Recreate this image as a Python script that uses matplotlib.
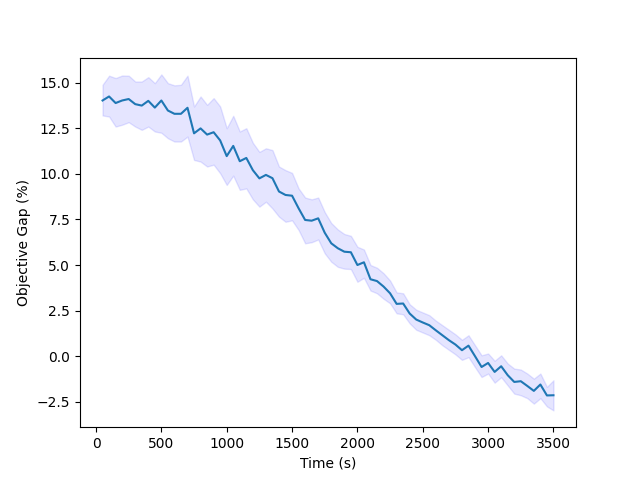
import numpy as np
import matplotlib
matplotlib.use("Agg")
import matplotlib.pyplot as plt

# time axis (s)
time_s = list(range(50, 3501, 50))

# mean objective gap (%) per time step
gap_mean = [14.02, 14.24, 13.88, 14.02, 14.10, 13.82, 13.74, 14.00, 13.63, 14.02,
            13.47, 13.29, 13.29, 13.62, 12.22, 12.49, 12.15, 12.28, 11.83, 10.97,
            11.53, 10.69, 10.87, 10.20, 9.75, 9.94, 9.76, 9.03, 8.84, 8.80,
            8.11, 7.47, 7.43, 7.56, 6.77, 6.19, 5.92, 5.73, 5.70, 5.00,
            5.15, 4.22, 4.12, 3.82, 3.45, 2.87, 2.89, 2.34, 2.01, 1.85,
            1.70, 1.42, 1.15, 0.88, 0.64, 0.33, 0.58, 0.00, -0.59, -0.37,
            -0.86, -0.55, -1.04, -1.41, -1.37, -1.63, -1.90, -1.55, -2.15, -2.14]

# upper / lower edge of the shaded band
gap_upper = [14.88, 15.38, 15.25, 15.39, 15.38, 15.06, 15.06, 15.30, 14.97, 15.45,
             14.97, 14.85, 14.88, 15.38, 13.69, 14.24, 13.78, 14.15, 13.69, 12.50,
             13.18, 12.32, 12.50, 11.70, 11.20, 11.40, 11.30, 10.40, 10.20, 10.05,
             9.20, 8.70, 8.60, 8.70, 7.90, 7.30, 6.95, 6.70, 6.60, 6.00,
             5.85, 5.00, 4.85, 4.55, 4.15, 3.50, 3.45, 2.85, 2.55, 2.40,
             2.25, 1.95, 1.70, 1.45, 1.20, 0.90, 1.15, 0.60, 0.05, 0.15,
             -0.25, 0.05, -0.40, -0.68, -0.73, -0.95, -1.23, -0.95, -1.68, -1.32]

gap_lower = [13.20, 13.14, 12.59, 12.69, 12.83, 12.59, 12.41, 12.59, 12.32, 12.25,
             11.95, 11.77, 11.77, 12.04, 10.76, 10.67, 10.40, 10.50, 10.03, 9.39,
             9.90, 9.12, 9.20, 8.60, 8.20, 8.47, 8.10, 7.65, 7.37, 7.45,
             6.92, 6.19, 6.25, 6.40, 5.64, 5.18, 4.90, 4.80, 4.78, 4.08,
             4.30, 3.60, 3.45, 3.15, 2.90, 2.35, 2.30, 1.80, 1.45, 1.30,
             1.15, 0.90, 0.60, 0.35, 0.10, -0.20, -0.05, -0.60, -1.14, -0.95,
             -1.45, -1.15, -1.60, -2.05, -2.14, -2.30, -2.60, -2.30, -2.75, -2.97]

fig, ax = plt.subplots(figsize=(6.4, 4.8), dpi=100)
ax.plot(time_s, gap_mean)
ax.fill_between(time_s, gap_lower, gap_upper, color='b', alpha=0.1)
ax.set_xlabel("Time (s)")
ax.set_ylabel("Objective Gap (%)")

fig.savefig("out.png")
